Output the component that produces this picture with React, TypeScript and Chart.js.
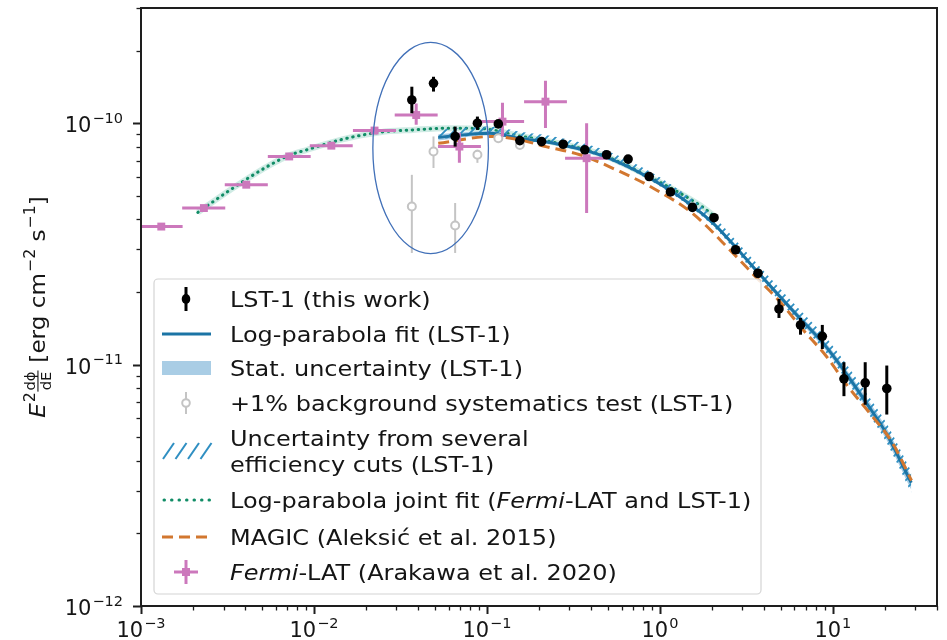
import React, { useEffect, useRef } from 'react';
import { Chart, registerables } from 'chart.js';

Chart.register(...registerables);

const FONT = '"DejaVu Sans", "Noto Sans", sans-serif';

// ---- Fermi-LAT (Arakawa et al. 2020) spectral points [TeV, erg cm^-2 s^-1]
const fermiEnergy = [1.31e-3, 2.31e-3, 4.06e-3, 7.19e-3, 1.26e-2, 2.24e-2, 3.9e-2, 6.93e-2, 0.123, 0.218, 0.377];
const fermiEnergyLow = [0.98e-3, 1.73e-3, 3.05e-3, 5.41e-3, 9.46e-3, 1.68e-2, 2.93e-2, 5.21e-2, 9.27e-2, 0.164, 0.283];
const fermiEnergyHigh = [1.74e-3, 3.07e-3, 5.41e-3, 9.57e-3, 1.675e-2, 2.98e-2, 5.19e-2, 9.23e-2, 0.164, 0.29, 0.501];
const fermiFlux = [3.73e-11, 4.45e-11, 5.56e-11, 7.28e-11, 8.07e-11, 9.32e-11, 1.081e-10, 8.0e-11, 1.015e-10, 1.228e-10, 7.16e-11];
const fermiFluxLow = [3.63e-11, 4.34e-11, 5.43e-11, 7.1e-11, 7.85e-11, 9.0e-11, 9.84e-11, 6.85e-11, 8.81e-11, 9.54e-11, 4.25e-11];
const fermiFluxHigh = [3.83e-11, 4.56e-11, 5.69e-11, 7.46e-11, 8.3e-11, 9.65e-11, 1.206e-10, 9.12e-11, 1.216e-10, 1.5e-10, 1.0e-10];

// ---- LST-1 (this work) spectral points
const lstEnergy = [0.0368, 0.0491, 0.0655, 0.0881, 0.1164, 0.155, 0.207, 0.276, 0.368, 0.492, 0.655, 0.867, 1.151, 1.542, 2.056, 2.74, 3.69, 4.88, 6.5, 8.69, 11.59, 15.38, 20.5];
const lstFlux = [1.248e-10, 1.463e-10, 8.81e-11, 1.0e-10, 9.93e-11, 8.47e-11, 8.39e-11, 8.18e-11, 7.76e-11, 7.4e-11, 7.1e-11, 6.01e-11, 5.19e-11, 4.48e-11, 4.06e-11, 2.99e-11, 2.39e-11, 1.7e-11, 1.459e-11, 1.309e-11, 8.73e-12, 8.4e-12, 7.96e-12];
const lstFluxLow = [1.099e-10, 1.352e-10, 8.0e-11, 9.38e-11, 9.63e-11, 8.22e-11, 8.14e-11, 7.94e-11, 7.53e-11, 7.18e-11, 6.89e-11, 5.83e-11, 5.03e-11, 4.35e-11, 3.94e-11, 2.88e-11, 2.29e-11, 1.56e-11, 1.33e-11, 1.16e-11, 7.4e-12, 6.82e-12, 6.21e-12];
const lstFluxHigh = [1.416e-10, 1.557e-10, 9.68e-11, 1.065e-10, 1.023e-10, 8.72e-11, 8.64e-11, 8.43e-11, 7.99e-11, 7.62e-11, 7.31e-11, 6.19e-11, 5.35e-11, 4.61e-11, 4.18e-11, 3.1e-11, 2.49e-11, 1.87e-11, 1.56e-11, 1.46e-11, 1.023e-11, 1.023e-11, 9.91e-12];

// ---- +1% background systematics test (LST-1)
const bkgEnergy = [0.0368, 0.0491, 0.0655, 0.0881, 0.1164, 0.155];
const bkgFlux = [4.52e-11, 7.63e-11, 3.77e-11, 7.4e-11, 8.67e-11, 8.13e-11];
const bkgFluxLow = [2.9e-11, 6.52e-11, 2.9e-11, 6.85e-11, 8.5e-11, 7.95e-11];
const bkgFluxHigh = [6.11e-11, 8.81e-11, 4.67e-11, 7.76e-11, 8.85e-11, 8.31e-11];

// ---- Log-parabola fit (LST-1), sampled along the curve
const fitEnergy = [0.0523, 0.104, 0.155, 0.231, 0.45, 0.875, 1.556, 2.056, 2.77, 3.69, 4.92, 6.42, 8.76, 11.69, 15.61, 20.3, 28.4];
const fitFlux = [8.74e-11, 9.09e-11, 8.65e-11, 8.32e-11, 7.39e-11, 5.92e-11, 4.52e-11, 3.82e-11, 3.04e-11, 2.41e-11, 1.92e-11, 1.56e-11, 1.23e-11, 9.38e-12, 6.94e-12, 5.21e-12, 3.24e-12];
// relative half-widths of the statistical band and the efficiency-cut band
const statBandRel = [0.03, 0.02, 0.015, 0.012, 0.01, 0.01, 0.012, 0.014, 0.016, 0.02, 0.025, 0.03, 0.035, 0.04, 0.05, 0.055, 0.065];
const effBandUpRel = [0.075, 0.065, 0.065, 0.065, 0.065, 0.065, 0.065, 0.07, 0.07, 0.075, 0.08, 0.085, 0.09, 0.095, 0.1, 0.105, 0.115];
const effBandDownRel = [0.02, 0.015, 0.015, 0.015, 0.015, 0.02, 0.025, 0.03, 0.035, 0.04, 0.045, 0.05, 0.055, 0.06, 0.07, 0.08, 0.09];

// ---- Log-parabola joint fit (Fermi-LAT and LST-1)
const jointEnergy = [2.13e-3, 3.29e-3, 5.36e-3, 7.3e-3, 9.12e-3, 1.42e-2, 2.42e-2, 3.74e-2, 5.86e-2, 9.12e-2, 0.155, 0.231, 0.45, 0.875, 1.7, 2.07];
const jointFlux = [4.27e-11, 5.3e-11, 6.61e-11, 7.39e-11, 7.76e-11, 8.53e-11, 9.18e-11, 9.38e-11, 9.53e-11, 9.5e-11, 8.85e-11, 8.4e-11, 7.45e-11, 5.98e-11, 4.58e-11, 4.12e-11];

// ---- MAGIC (Aleksić et al. 2015)
const magicEnergy = [0.0523, 0.108, 0.155, 0.222, 0.345, 0.586, 0.91, 1.55, 2.64, 3.62, 4.92, 6.69, 9.19, 12.2, 16.3, 22.1, 28.5];
const magicFlux = [8.26e-11, 8.81e-11, 8.53e-11, 7.98e-11, 7.4e-11, 6.31e-11, 5.39e-11, 4.22e-11, 2.9e-11, 2.29e-11, 1.83e-11, 1.4e-11, 1.08e-11, 8.13e-12, 6.31e-12, 4.74e-12, 3.31e-12];

// ---- highlighted region (energy and flux extent of the ellipse)
const ellipseEnergyRange = [0.0219, 0.102];
const ellipseFluxRange = [2.88e-11, 2.16e-10];

// ---- axes
const xRange = [1e-3, 40];
const yRange = [1e-12, 3e-10];
const xTickValues = [1e-3, 1e-2, 1e-1, 1, 10];
const xTickExponents = ['−3', '−2', '−1', '0', '1'];
const yTickValues = [1e-12, 1e-11, 1e-10];
const yTickExponents = ['−12', '−11', '−10'];

// ---- legend entries ("_" toggles italic)
const legendLabels: string[][] = [
  ['LST-1 (this work)'],
  ['Log-parabola fit (LST-1)'],
  ['Stat. uncertainty (LST-1)'],
  ['+1% background systematics test (LST-1)'],
  ['Uncertainty from several', 'efficiency cuts (LST-1)'],
  ['Log-parabola joint fit (_Fermi_-LAT and LST-1)'],
  ['MAGIC (Aleksić et al. 2015)'],
  ['_Fermi_-LAT (Arakawa et al. 2020)'],
];

const COLORS = {
  lst: '#000000',
  fit: '#1b74a5',
  stat: '#a9cde5',
  hatch: '#2f8fc2',
  bkg: '#c4c4c4',
  joint: '#118c66',
  jointHalo: 'rgba(95, 190, 165, 0.3)',
  magic: '#d2772f',
  fermi: '#cc78bc',
  ellipse: '#4170b8',
  axis: '#1e1e1e',
  text: '#151515',
};

const pts = (xs: number[], ys: number[]) => xs.map((x, i) => ({ x, y: ys[i] }));

function makeHatch(color: string): CanvasPattern {
  const size = 9;
  const c = document.createElement('canvas');
  c.width = size;
  c.height = size;
  const g = c.getContext('2d')!;
  g.strokeStyle = color;
  g.lineWidth = 1.8;
  g.beginPath();
  g.moveTo(-1, size + 1);
  g.lineTo(size + 1, -1);
  g.moveTo(-1, 1);
  g.lineTo(1, -1);
  g.moveTo(size - 1, size + 1);
  g.lineTo(size + 1, size - 1);
  g.stroke();
  return g.createPattern(c, 'repeat')!;
}

function drawPow(ctx: CanvasRenderingContext2D, exp: string, x: number, baseline: number, align: 'center' | 'right') {
  const big = `21px ${FONT}`;
  const small = `14.5px ${FONT}`;
  ctx.font = big;
  const w1 = ctx.measureText('10').width;
  ctx.font = small;
  const w2 = ctx.measureText(exp).width;
  const total = w1 + w2 + 1;
  const x0 = align === 'center' ? x - total / 2 : x - total;
  ctx.textAlign = 'left';
  ctx.textBaseline = 'alphabetic';
  ctx.font = big;
  ctx.fillText('10', x0, baseline);
  ctx.font = small;
  ctx.fillText(exp, x0 + w1 + 1, baseline - 9.5);
}

function drawYTitle(ctx: CanvasRenderingContext2D, bx: number, cy: number) {
  const big = `22px ${FONT}`;
  const ital = `italic 22px ${FONT}`;
  const sup = `15px ${FONT}`;
  const fr = `14px ${FONT}`;
  type Seg = { t: string; f: string; dy: number } | { frac: [string, string] };
  const segs: Seg[] = [
    { t: 'E', f: ital, dy: 0 },
    { t: '2', f: sup, dy: -10 },
    { frac: ['dϕ', 'dE'] },
    { t: ' [erg cm', f: big, dy: 0 },
    { t: '−2', f: sup, dy: -10 },
    { t: ' s', f: big, dy: 0 },
    { t: '−1', f: sup, dy: -10 },
    { t: ']', f: big, dy: 0 },
  ];
  const stretch = 1.05;
  const widths = segs.map((s) => {
    if ('frac' in s) {
      ctx.font = fr;
      return Math.max(ctx.measureText(s.frac[0]).width, ctx.measureText(s.frac[1]).width) + 3;
    }
    ctx.font = s.f;
    return ctx.measureText(s.t).width + (s.f === sup ? 1 : 0);
  });
  const total = widths.reduce((a, b) => a + b, 0) * stretch;
  ctx.save();
  ctx.translate(bx, cy);
  ctx.rotate(-Math.PI / 2);
  ctx.translate(-total / 2, 0);
  ctx.scale(stretch, 1);
  ctx.fillStyle = COLORS.text;
  ctx.textBaseline = 'alphabetic';
  ctx.textAlign = 'left';
  let x = 0;
  segs.forEach((s, i) => {
    if ('frac' in s) {
      ctx.font = fr;
      const w = widths[i];
      const wn = ctx.measureText(s.frac[0]).width;
      const wd = ctx.measureText(s.frac[1]).width;
      ctx.fillText(s.frac[0], x + (w - wn) / 2, -10.5);
      ctx.fillText(s.frac[1], x + (w - wd) / 2, 5.5);
      ctx.fillRect(x + 0.5, -7.6, w - 1, 1.1);
    } else {
      ctx.font = s.f;
      ctx.fillText(s.t, x + (s.f === sup ? 1 : 0), s.dy);
    }
    x += widths[i];
  });
  ctx.restore();
}

// legend text is drawn slightly widened to fill the frame like the original figure
const LEGEND_STRETCH = 1.09;

function drawRichText(ctx: CanvasRenderingContext2D, text: string, x: number, baseline: number, size: number) {
  const parts = text.split('_');
  ctx.save();
  ctx.translate(x, baseline);
  ctx.scale(LEGEND_STRETCH, 1);
  let cx = 0;
  parts.forEach((p, i) => {
    if (!p) return;
    ctx.font = `${i % 2 === 1 ? 'italic ' : ''}${size}px ${FONT}`;
    ctx.fillText(p, cx, 0);
    cx += ctx.measureText(p).width;
  });
  ctx.restore();
}

function drawLegend(ctx: CanvasRenderingContext2D, L: number, T: number) {
  const x0 = L + 13, y0 = T + 271, x1 = L + 620, y1 = T + 586, r = 4;
  ctx.save();
  ctx.beginPath();
  ctx.moveTo(x0 + r, y0);
  ctx.arcTo(x1, y0, x1, y1, r);
  ctx.arcTo(x1, y1, x0, y1, r);
  ctx.arcTo(x0, y1, x0, y0, r);
  ctx.arcTo(x0, y0, x1, y0, r);
  ctx.closePath();
  ctx.fillStyle = 'rgba(255,255,255,0.85)';
  ctx.fill();
  ctx.strokeStyle = '#d4d4d4';
  ctx.lineWidth = 1.2;
  ctx.stroke();

  const iL = L + 21, iR = L + 70, iC = L + 45;
  const tx = L + 89;
  const rowY = [291, 326, 360, 395, 443, 492, 529, 564].map((v) => T + v);
  const size = 22;

  // text
  ctx.fillStyle = COLORS.text;
  ctx.textAlign = 'left';
  ctx.textBaseline = 'alphabetic';
  legendLabels.forEach((lines, i) => {
    const y = rowY[i];
    if (lines.length === 1) drawRichText(ctx, lines[0], tx, y + 8, size);
    else {
      drawRichText(ctx, lines[0], tx, y - 13 + 8, size);
      drawRichText(ctx, lines[1], tx, y + 13 + 8, size);
    }
  });

  const line = (ax: number, ay: number, bx: number, by: number) => {
    ctx.beginPath();
    ctx.moveTo(ax, ay);
    ctx.lineTo(bx, by);
    ctx.stroke();
  };
  ctx.lineCap = 'butt';
  // LST-1 points
  ctx.strokeStyle = COLORS.lst;
  ctx.lineWidth = 3;
  line(iC, rowY[0] - 12, iC, rowY[0] + 12);
  ctx.fillStyle = COLORS.lst;
  ctx.beginPath();
  ctx.ellipse(iC, rowY[0], 4.3, 5, 0, 0, Math.PI * 2);
  ctx.fill();
  // fit line
  ctx.strokeStyle = COLORS.fit;
  ctx.lineWidth = 3;
  line(iL, rowY[1], iR, rowY[1]);
  // stat band
  ctx.fillStyle = COLORS.stat;
  ctx.fillRect(iL, rowY[2] - 7, iR - iL, 14);
  // background test
  ctx.strokeStyle = COLORS.bkg;
  ctx.lineWidth = 2;
  line(iC, rowY[3] - 11, iC, rowY[3] + 11);
  ctx.fillStyle = '#ffffff';
  ctx.beginPath();
  ctx.arc(iC, rowY[3], 3.8, 0, Math.PI * 2);
  ctx.fill();
  ctx.stroke();
  // hatched band: four slashes
  ctx.strokeStyle = COLORS.hatch;
  ctx.lineWidth = 2;
  for (let k = 0; k < 4; k++) {
    const sx = iL + 1 + k * 12.5;
    line(sx, rowY[4] + 8, sx + 11, rowY[4] - 8);
  }
  // joint fit
  ctx.strokeStyle = COLORS.joint;
  ctx.lineWidth = 3;
  ctx.lineCap = 'round';
  ctx.setLineDash([0.5, 7]);
  line(iL + 2, rowY[5], iR, rowY[5]);
  // MAGIC
  ctx.lineCap = 'butt';
  ctx.strokeStyle = COLORS.magic;
  ctx.setLineDash([11, 6]);
  line(iL, rowY[6], iR, rowY[6]);
  ctx.setLineDash([]);
  // Fermi-LAT
  ctx.strokeStyle = COLORS.fermi;
  ctx.lineWidth = 3;
  line(iC - 12, rowY[7], iC + 12, rowY[7]);
  line(iC, rowY[7] - 12, iC, rowY[7] + 12);
  ctx.fillStyle = COLORS.fermi;
  ctx.fillRect(iC - 4, rowY[7] - 4, 8, 8);
  ctx.restore();
}

const spectrumPlugin = {
  id: 'spectrumDecor',
  beforeDatasetDraw(chart: any, args: any) {
    const ds = chart.data.datasets[args.index];
    if (!ds.errorBarColor) return;
    const { ctx, chartArea: a } = chart;
    const xs = chart.scales.x;
    const ys = chart.scales.y;
    ctx.save();
    ctx.beginPath();
    ctx.rect(a.left, a.top, a.right - a.left, a.bottom - a.top);
    ctx.clip();
    ctx.strokeStyle = ds.errorBarColor;
    ctx.lineWidth = ds.errorBarWidth;
    ctx.lineCap = 'butt';
    for (const p of ds.data) {
      const px = xs.getPixelForValue(p.x);
      const py = ys.getPixelForValue(p.y);
      ctx.beginPath();
      if (p.yMin != null) {
        ctx.moveTo(px, ys.getPixelForValue(p.yMin));
        ctx.lineTo(px, ys.getPixelForValue(p.yMax));
      }
      if (p.xMin != null) {
        ctx.moveTo(xs.getPixelForValue(p.xMin), py);
        ctx.lineTo(xs.getPixelForValue(p.xMax), py);
      }
      ctx.stroke();
    }
    ctx.restore();
  },
  afterDraw(chart: any) {
    const { ctx, chartArea: a } = chart;
    const xs = chart.scales.x;
    const ys = chart.scales.y;
    ctx.save();

    // highlighted region
    const ex0 = xs.getPixelForValue(ellipseEnergyRange[0]);
    const ex1 = xs.getPixelForValue(ellipseEnergyRange[1]);
    const ey0 = ys.getPixelForValue(ellipseFluxRange[1]);
    const ey1 = ys.getPixelForValue(ellipseFluxRange[0]);
    ctx.strokeStyle = COLORS.ellipse;
    ctx.lineWidth = 1.3;
    ctx.beginPath();
    ctx.ellipse((ex0 + ex1) / 2, (ey0 + ey1) / 2, (ex1 - ex0) / 2, (ey1 - ey0) / 2, 0, 0, Math.PI * 2);
    ctx.stroke();

    drawLegend(ctx, a.left, a.top);

    // frame
    ctx.strokeStyle = COLORS.axis;
    ctx.lineWidth = 2;
    ctx.strokeRect(a.left, a.top, a.right - a.left, a.bottom - a.top);

    // ticks
    const tick = (x0: number, y0: number, x1: number, y1: number, w: number) => {
      ctx.lineWidth = w;
      ctx.beginPath();
      ctx.moveTo(x0, y0);
      ctx.lineTo(x1, y1);
      ctx.stroke();
    };
    for (let e = -3; e <= 1; e++) {
      for (let m = 1; m <= 9; m++) {
        const v = m * Math.pow(10, e);
        if (v < xRange[0] * 0.999 || v > xRange[1] * 1.001) continue;
        const px = Math.round(xs.getPixelForValue(v)) + 0.5;
        if (m === 1) tick(px, a.bottom, px, a.bottom + 8, 2);
        else tick(px, a.bottom, px, a.bottom + 4.5, 1.3);
      }
    }
    for (let e = -12; e <= -10; e++) {
      for (let m = 1; m <= 9; m++) {
        const v = m * Math.pow(10, e);
        if (v < yRange[0] * 0.999 || v > yRange[1] * 1.001) continue;
        const py = Math.round(ys.getPixelForValue(v)) + 0.5;
        if (m === 1) tick(a.left, py, a.left - 8, py, 2);
        else tick(a.left, py, a.left - 4.5, py, 1.3);
      }
    }

    // tick labels
    ctx.fillStyle = COLORS.text;
    xTickValues.forEach((v, i) => {
      drawPow(ctx, xTickExponents[i], xs.getPixelForValue(v), a.bottom + 31, 'center');
    });
    yTickValues.forEach((v, i) => {
      drawPow(ctx, yTickExponents[i], a.left - 18, ys.getPixelForValue(v) + 9, 'right');
    });

    drawYTitle(ctx, 45, (a.top + a.bottom) / 2);
    ctx.restore();
  },
};

export default function App() {
  const ref = useRef<HTMLCanvasElement>(null);

  useEffect(() => {
    const canvas = ref.current;
    if (!canvas) return;
    const hatch = makeHatch(COLORS.hatch);

    const fermiPoints = fermiEnergy.map((x, i) => ({
      x, y: fermiFlux[i], xMin: fermiEnergyLow[i], xMax: fermiEnergyHigh[i], yMin: fermiFluxLow[i], yMax: fermiFluxHigh[i],
    }));
    const lstPoints = lstEnergy.map((x, i) => ({ x, y: lstFlux[i], yMin: lstFluxLow[i], yMax: lstFluxHigh[i] }));
    const bkgPoints = bkgEnergy.map((x, i) => ({ x, y: bkgFlux[i], yMin: bkgFluxLow[i], yMax: bkgFluxHigh[i] }));

    const curve = { showLine: true, pointRadius: 0, pointHoverRadius: 0, tension: 0.4, cubicInterpolationMode: 'monotone' as const };

    const chart = new Chart(canvas, {
      type: 'scatter',
      data: {
        datasets: [
          { ...curve, label: 'joint band', data: pts(jointEnergy, jointFlux), borderColor: COLORS.jointHalo, borderWidth: 6, fill: false, order: 9 },
          { ...curve, label: 'joint', data: pts(jointEnergy, jointFlux), borderColor: COLORS.joint, borderWidth: 3, borderDash: [0.5, 5.5], borderCapStyle: 'round', fill: false, order: 8 },
          { ...curve, label: 'stat low', data: fitEnergy.map((x, i) => ({ x, y: fitFlux[i] * (1 - statBandRel[i]) })), borderWidth: 0, fill: false, order: 7 },
          { ...curve, label: 'stat high', data: fitEnergy.map((x, i) => ({ x, y: fitFlux[i] * (1 + statBandRel[i]) })), borderWidth: 0, fill: '-1', backgroundColor: COLORS.stat, order: 7 },
          { ...curve, label: 'eff low', data: fitEnergy.map((x, i) => ({ x, y: fitFlux[i] * (1 - effBandDownRel[i]) })), borderWidth: 0, fill: false, order: 6 },
          { ...curve, label: 'eff high', data: fitEnergy.map((x, i) => ({ x, y: fitFlux[i] * (1 + effBandUpRel[i]) })), borderWidth: 0, fill: '-1', backgroundColor: hatch as any, order: 6 },
          { ...curve, label: 'fit', data: pts(fitEnergy, fitFlux), borderColor: COLORS.fit, borderWidth: 3, fill: false, order: 5 },
          { ...curve, label: 'MAGIC', data: pts(magicEnergy, magicFlux), borderColor: COLORS.magic, borderWidth: 3, borderDash: [11, 6], fill: false, order: 4 },
          {
            label: 'bkg', data: bkgPoints as any, pointStyle: 'circle', pointRadius: 4, pointBorderWidth: 2,
            pointBackgroundColor: '#ffffff', pointBorderColor: COLORS.bkg, errorBarColor: COLORS.bkg, errorBarWidth: 2, order: 3,
          } as any,
          {
            label: 'Fermi', data: fermiPoints as any, pointStyle: 'rect', pointRadius: 5.6, pointBorderWidth: 0,
            pointBackgroundColor: COLORS.fermi, pointBorderColor: COLORS.fermi, errorBarColor: COLORS.fermi, errorBarWidth: 3, order: 2,
          } as any,
          {
            label: 'LST', data: lstPoints as any, pointStyle: 'circle', pointRadius: 4.8, pointBorderWidth: 0,
            pointBackgroundColor: COLORS.lst, pointBorderColor: COLORS.lst, errorBarColor: COLORS.lst, errorBarWidth: 3, order: 1,
          } as any,
        ],
      },
      options: {
        responsive: false,
        devicePixelRatio: 1,
        animation: false,
        events: [],
        layout: { padding: { top: 8, right: 10, left: 0, bottom: 0 } },
        scales: {
          x: {
            type: 'logarithmic', min: xRange[0], max: xRange[1],
            ticks: { display: false }, grid: { display: false }, border: { display: false },
            afterFit: (s: any) => { s.height = 34; },
          },
          y: {
            type: 'logarithmic', min: yRange[0], max: yRange[1],
            ticks: { display: false }, grid: { display: false }, border: { display: false },
            afterFit: (s: any) => { s.width = 141; },
          },
        },
        plugins: {
          legend: { display: false },
          tooltip: { enabled: false },
        },
      },
      plugins: [spectrumPlugin],
    });

    return () => chart.destroy();
  }, []);

  return (
    <div style={{ position: 'absolute', left: 0, top: 0, width: 947, height: 640, background: '#ffffff' }}>
      <canvas ref={ref} width={947} height={640} style={{ display: 'block', width: 947, height: 640 }} />
    </div>
  );
}
